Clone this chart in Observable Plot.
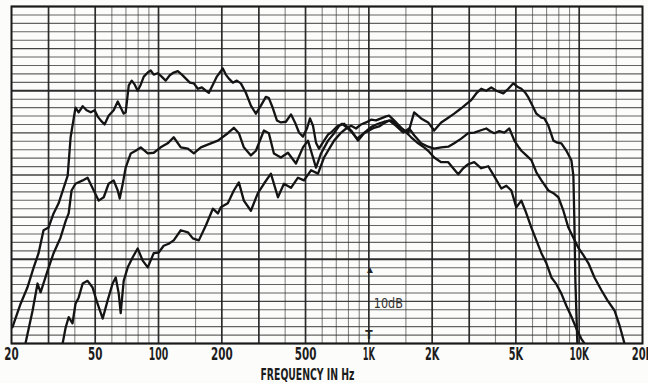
<!DOCTYPE html>
<html><head><meta charset="utf-8">
<script src="https://cdn.jsdelivr.net/npm/d3@7"></script>
<script src="https://cdn.jsdelivr.net/npm/@observablehq/plot@0.6"></script>
<style>
html,body{margin:0;padding:0;background:#fcfcfa;}
#chart{width:648px;height:383px;overflow:hidden;}
</style>
</head><body><div id="chart"></div>
<script>
// [frequency Hz, level dB]
const curveA = [[20.2,2.4],[22.1,5.9],[23.8,8.3],[25.5,11.3],[26.9,13.4],[28.4,16.8],[30.0,17.2],[31.7,19.3],[33.5,20.8],[35.4,23.1],[37.0,24.9],[38.2,30.6],[40.3,35.0],[41.7,34.3],[43.6,35.2],[45.5,34.6],[47.6,34.3],[49.7,34.6],[51.3,33.7],[53.1,33.1],[55.4,32.5],[57.9,33.8],[61.2,34.6],[64.0,35.9],[66.1,35.0],[68.3,34.1],[69.8,34.3],[72.2,38.3],[74.6,39.0],[77.1,38.4],[79.6,37.5],[82.3,38.4],[85.1,39.6],[88.9,40.2],[91.8,40.5],[94.9,39.9],[99.1,40.1],[103.5,39.6],[108.2,39.0],[113.1,39.8],[118.1,40.2],[123.5,40.4],[129.1,39.9],[134.9,39.3],[140.9,38.7],[147.2,38.6],[153.8,37.8],[160.7,38.0],[167.9,37.5],[173.5,37.2],[181.3,38.4],[189.4,39.6],[195.7,40.2],[202.2,40.8],[208.9,39.9],[216.0,39.3],[225.6,38.7],[235.7,39.0],[246.3,38.6],[260.2,37.2],[274.9,35.3],[290.4,34.1],[306.7,35.3],[323.9,36.6],[334.7,36.4],[349.8,34.9],[365.5,33.1],[381.9,32.8],[403.4,32.9],[426.3,34.0],[445.4,32.8],[465.4,31.3],[486.2,30.7],[507.9,31.9],[525.0,33.4],[542.6,32.3],[560.7,29.8],[579.5,28.9],[612.3,30.1],[639.8,31.0],[661.3,31.3],[706.5,32.2],[746.7,32.6],[789.1,32.0],[832.8,31.3],[878.9,30.4],[928.3,31.0],[980.7,31.6],[1035,32.2],[1107,32.6],[1182,32.9],[1276,33.1],[1362,32.5],[1471,31.6],[1589,30.6],[1716,29.7],[1812,29.2],[1914,28.6],[2044,27.6],[2208,26.9],[2385,26.9],[2518,26.0],[2660,25.1],[2810,26.0],[2968,26.6],[3170,26.9],[3423,26.0],[3696,26.3],[3949,24.8],[4264,23.0],[4505,23.4],[4759,22.7],[5024,20.2],[5310,21.2],[5548,19.7],[5925,17.2],[6259,15.3],[6613,13.4],[6985,11.9],[7379,9.8],[7789,8.8],[8228,7.4],[8692,5.6],[9180,4.0],[9696,2.2],[10240,0.7],[10590,0]];
const curveB = [[23.3,0],[25.2,4.9],[26.6,8.9],[27.5,7.6],[29.7,10.8],[31.7,13.4],[34.2,15.7],[36.2,18.2],[37.4,19.3],[38.6,22.7],[40.3,23.7],[43.6,24.2],[46.0,24.6],[49.2,22.7],[51.9,21.2],[54.9,21.7],[57.9,23.7],[61.2,24.2],[64.0,22.7],[65.4,21.5],[67.6,23.7],[69.8,26.1],[73.8,28.2],[77.9,28.6],[82.3,29.1],[88.9,28.2],[94.9,28.3],[102.4,29.1],[110.6,29.7],[118.1,30.6],[127.6,29.1],[137.9,28.9],[147.2,28.2],[158.9,29.1],[177.3,29.7],[191.5,30.1],[213.5,31.2],[228.1,32.0],[241.0,31.2],[254.5,29.1],[274.9,27.9],[290.4,28.6],[317.0,31.6],[334.7,31.2],[353.7,28.2],[381.9,27.6],[412.4,28.3],[450.3,26.7],[486.2,29.1],[513.5,30.1],[542.6,27.6],[560.7,26.1],[592.4,28.2],[639.8,30.1],[683.5,31.2],[722.4,32.3],[763.4,32.6],[823.7,31.6],[888.6,30.1],[948.9,31.2],[1002,31.6],[1058,32.0],[1119,32.2],[1169,32.6],[1248,33.1],[1347,32.3],[1455,31.3],[1555,31.9],[1642,30.9],[1773,29.7],[1914,29.2],[2044,28.9],[2208,29.1],[2385,29.2],[2546,29.7],[2749,30.4],[2968,31.2],[3170,31.3],[3385,31.6],[3616,31.9],[3778,31.5],[3949,31.2],[4172,31.5],[4407,31.3],[4655,31.9],[4759,31.2],[4918,30.1],[5138,29.2],[5310,28.6],[5609,27.9],[5925,27.2],[6259,25.4],[6613,24.2],[7140,22.7],[7543,22.3],[7962,21.7],[8411,19.7],[8885,17.2],[9384,15.7],[9910,14.2],[10470,13.1],[11070,11.9],[11820,9.8],[12760,7.9],[13630,6.4],[14720,4.9],[15550,2.7],[16420,0]];
const curveC = [[35.0,0],[36.2,2.4],[37.4,3.9],[39.0,3.0],[40.3,5.9],[41.7,6.8],[43.6,8.9],[46.0,9.3],[48.6,8.3],[51.3,5.9],[54.3,3.7],[57.3,6.4],[60.5,8.9],[62.6,9.8],[64.7,7.4],[66.1,4.5],[68.3,9.3],[71.4,11.3],[75.4,12.8],[79.6,14.1],[84.1,12.3],[88.9,11.3],[94.9,13.4],[100.2,13.5],[105.8,14.5],[111.8,14.8],[118.1,15.3],[127.6,16.8],[137.9,16.5],[145.6,15.6],[155.5,15.3],[167.9,17.5],[181.3,20.0],[191.5,19.3],[197.8,20.2],[213.5,20.8],[228.1,22.7],[241.0,23.9],[254.5,21.2],[274.9,19.7],[296.8,22.3],[317.0,23.7],[342.2,25.2],[369.6,21.7],[394.7,23.7],[426.3,23.1],[460.3,24.6],[491.5,24.2],[530.8,25.7],[573.2,25.2],[612.3,27.6],[639.8,28.6],[683.5,30.1],[738.6,31.3],[780.5,31.9],[823.7,32.3],[869.3,31.9],[918.1,32.5],[970.0,32.8],[1024,33.2],[1082,33.1],[1144,33.4],[1208,33.7],[1248,33.8],[1318,33.1],[1424,32.0],[1538,31.2],[1642,34.3],[1773,33.4],[1914,32.8],[2044,31.6],[2208,32.8],[2385,33.5],[2546,34.1],[2749,34.9],[2904,35.5],[3067,36.1],[3240,37.1],[3423,37.8],[3616,37.5],[3820,38.0],[4037,37.5],[4358,37.1],[4604,37.8],[4864,38.6],[5082,38.1],[5310,37.8],[5548,37.2],[5733,36.5],[5991,35.3],[6259,34.1],[6613,33.5],[6834,33.4],[7140,32.3],[7543,30.1],[7874,29.8],[8228,29.7],[8692,28.6],[9180,27.2],[9384,24.9],[9486,18.2],[9591,9.3],[9803,0]];

const tickValues = [20, 50, 100, 200, 500, 1000, 2000, 5000, 10000, 20000];
const tickLabels = ["20", "50", "100", "200", "500", "1K", "2K", "5K", "10K", "20K"];
const gridFreqs = [30,40,50,60,70,80,90,100,150,200,300,400,500,600,700,800,900,1000,1500,2000,3000,4000,5000,6000,7000,8000,9000,10000,15000];
const xTitle = "FREQUENCY IN Hz";
const scaleNote = "10dB";

const rows = [
  ...curveA.map(([f, db]) => ({curve: "A", f, db})),
  ...curveB.map(([f, db]) => ({curve: "B", f, db})),
  ...curveC.map(([f, db]) => ({curve: "C", f, db}))
];
const levelLines = d3.range(0, 50.001, 1.25);
const mant = f => +(f / Math.pow(10, Math.floor(Math.log10(f) + 1e-9))).toFixed(2);
const majorM = new Set([1, 2, 3, 5]);

const font = "'Liberation Sans Narrow','DejaVu Sans Condensed','Liberation Sans',sans-serif";

const chart = Plot.plot({
  width: 648, height: 383,
  marginLeft: 11, marginRight: 6, marginTop: 6, marginBottom: 40,
  style: {background: "#fcfcfa"},
  x: {type: "log", domain: [20, 20000], axis: null},
  y: {domain: [0, 50], axis: null},
  marks: [
    Plot.ruleY(levelLines, {
      y: d => d, stroke: "#222",
      strokeWidth: d => { const i = Math.round(d / 1.25); return (i === 10 || i === 30) ? 2.2 : (i % 5 === 0 ? 1.4 : 1.1); },
      strokeOpacity: d => { const i = Math.round(d / 1.25); return (i === 10 || i === 30) ? 0.95 : (i % 5 === 0 ? 0.85 : 0.7); }
    }),
    Plot.ruleX(gridFreqs, {
      x: d => d, stroke: "#222",
      strokeWidth: d => majorM.has(mant(d)) ? 1.7 : 1.1,
      strokeOpacity: d => majorM.has(mant(d)) ? 0.95 : 0.55
    }),
    Plot.line(rows, {x: "f", y: "db", z: "curve", stroke: "#141414", strokeWidth: 2.3, strokeLinejoin: "round", strokeLinecap: "round", clip: true}),
    Plot.frame({stroke: "#1a1a1a", strokeWidth: 2}),
    Plot.text([scaleNote], {x: [1000], y: [5.9], dx: 5, textAnchor: "start", fontSize: 14, fill: "#333", fontFamily: font}),
    Plot.text(["▲"], {x: [1000], y: [11.0], dx: 1, fontSize: 10, fill: "#222"}),
    Plot.text(["T"], {x: [1000], y: [1.2], fontSize: 12, fontWeight: "bold", fill: "#222", fontFamily: font}),
    Plot.text(tickValues, {x: d => d, text: (d, i) => tickLabels[i], frameAnchor: "bottom", lineAnchor: "middle", dy: 11, fontSize: 18, fontWeight: "bold", fill: "#1c1c1c", fontFamily: font}),
    Plot.text([xTitle], {frameAnchor: "bottom", lineAnchor: "middle", dy: 31.5, dx: -19.5, fontSize: 16, fontWeight: "bold", fill: "#1c1c1c", fontFamily: font})
  ]
});

const charW = s => Array.from(s).reduce((a, c) => a + (c === "1" ? 5 : c === " " ? 4 : 7.2), 0);
const fitWidth = {};
tickLabels.forEach(s => fitWidth[s] = charW(s));
fitWidth[xTitle] = 94;
fitWidth[scaleNote] = 29;
chart.querySelectorAll("text").forEach(t => {
  const s = t.textContent;
  if (fitWidth[s] !== undefined) {
    t.setAttribute("textLength", fitWidth[s]);
    t.setAttribute("lengthAdjust", "spacingAndGlyphs");
  }
});
document.getElementById("chart").appendChild(chart);
</script>
</body></html>
